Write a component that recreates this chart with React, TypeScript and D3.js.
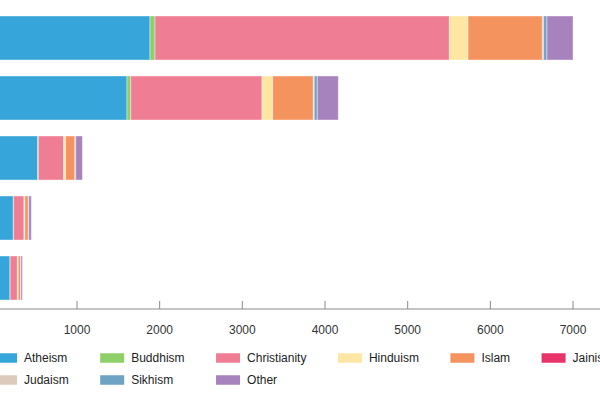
import React from "react";
import * as d3 from "d3";

const categories = ["Group A", "Group B", "Group C", "Group D", "Group E"];
const religions = ["Atheism", "Buddhism", "Christianity", "Hinduism", "Islam", "Jainism", "Judaism", "Sikhism", "Other"];
const colors = ["#36a6da", "#8ecf68", "#ef7e95", "#ffe7a3", "#f5935f", "#e8336b", "#dccabd", "#6fa3c4", "#a683bd"];
const atheism = [1883, 1605, 525, 230, 190];
const buddhism = [61, 45, 8, 3, 2];
const christianity = [3560, 1588, 306, 126, 87];
const hinduism = [226, 129, 24, 12, 11];
const islam = [899, 492, 113, 40, 29];
const jainism = [5, 3, 1, 0, 0];
const judaism = [10, 8, 3, 2, 1];
const sikhism = [40, 37, 6, 4, 3];
const other = [316, 254, 80, 31, 17];
const tickValues = [0, 1000, 2000, 3000, 4000, 5000, 6000, 7000, 8000];

const series = [atheism, buddhism, christianity, hinduism, islam, jainism, judaism, sikhism, other];

const FONT = "12px 'Liberation Sans', Arial, sans-serif";

function measure(text: string): number {
  const c = document.createElement("canvas").getContext("2d");
  if (!c) return text.length * 6.5;
  c.font = FONT;
  return c.measureText(text).width;
}

export default function App() {
  const x = d3.scaleLinear().domain([0, 8000]).range([-5.7, -5.7 + 661.4]);
  const y = d3.scaleBand<string>().domain(categories).range([8, 308]).paddingInner(16 / 60).paddingOuter(8 / 60);

  const rows = categories.map((c, i) => {
    const obj: any = { cat: c };
    religions.forEach((r, j) => (obj[r] = series[j][i]));
    return obj;
  });
  const stacked = d3.stack<any>().keys(religions)(rows);

  const axisY = 309;
  const nCols = 6;
  const colWidths: number[] = [];
  for (let c = 0; c < nCols; c++) {
    let m = 0;
    for (let r = 0; r < 2; r++) {
      const idx = r * nCols + c;
      if (idx < religions.length) m = Math.max(m, measure(religions[idx]));
    }
    colWidths.push(24 + 7 + m + 31.5);
  }
  const colX: number[] = [];
  let acc = -7;
  for (let c = 0; c < nCols; c++) {
    colX.push(acc);
    acc += colWidths[c];
  }

  return (
    <svg width={600} height={400} style={{ position: "absolute", left: 0, top: 0, fontFamily: "'Liberation Sans', Arial, sans-serif" }}>
      <rect width={600} height={400} fill="#fff" />
      {stacked.map((s, j) => (
        <g key={religions[j]} fill={colors[j]}>
          {s.map((d, i) => (
            <rect
              key={i}
              x={x(d[0])}
              y={y(categories[i])}
              width={Math.max(0, x(d[1]) - x(d[0]))}
              height={y.bandwidth()}
              stroke="#fff"
              strokeOpacity={0.4}
              strokeWidth={1}
            />
          ))}
        </g>
      ))}
      <line x1={x(0)} x2={x(8000)} y1={axisY} y2={axisY} stroke="#8a8a8a" strokeWidth={1} />
      {tickValues.map((t) => (
        <g key={t} transform={`translate(${x(t)},0)`}>
          <line y1={axisY - 8} y2={axisY} stroke="#8a8a8a" strokeWidth={1} />
          <text y={axisY + 21} textAnchor="middle" dominantBaseline="central" fontSize={12} fill="#333">
            {t}
          </text>
        </g>
      ))}
      {religions.map((r, idx) => {
        const row = Math.floor(idx / nCols);
        const col = idx % nCols;
        const cy = 358 + row * 22;
        return (
          <g key={r} transform={`translate(${colX[col]},${cy})`}>
            <rect x={0} y={-4.75} width={24} height={9.5} fill={colors[idx]} />
            <text x={31} y={0} dominantBaseline="central" fontSize={12} fill="#222">
              {r}
            </text>
          </g>
        );
      })}
    </svg>
  );
}
